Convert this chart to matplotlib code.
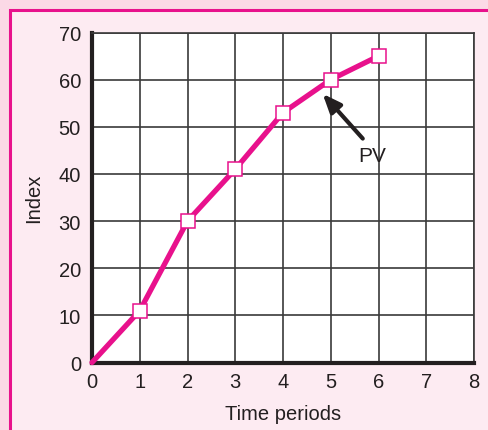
import matplotlib.pyplot as plt
from matplotlib.patches import Rectangle

plt.rcParams['font.family'] = ['Liberation Sans', 'DejaVu Sans']

periods = [0, 1, 2, 3, 4, 5, 6]
index_values = [0, 11, 30, 41, 53, 60, 65]

x_ticks = [0, 1, 2, 3, 4, 5, 6, 7, 8]
y_ticks = [0, 10, 20, 30, 40, 50, 60, 70]

magenta = '#e8118c'
ink = '#231f20'

fig = plt.figure(figsize=(4.88, 4.31), dpi=100)
fig.patch.set_facecolor('#fbd9e6')

# inner panel with magenta frame running off the right and bottom edges
panel = Rectangle((10 / 488, -0.05), 1.1, 1 - 11 / 431 + 0.05,
                  transform=fig.transFigure, facecolor='#fdebf2',
                  edgecolor=magenta, linewidth=2.2, zorder=-10)
fig.patches.append(panel)

ax = fig.add_axes([92 / 488, 1 - 363.5 / 431, 382 / 488, 330 / 431])
ax.set_facecolor('white')
ax.set_xlim(0, 8)
ax.set_ylim(0, 70)
ax.set_xticks(x_ticks)
ax.set_yticks(y_ticks)
ax.tick_params(length=0, labelsize=14.5, colors=ink)
ax.tick_params(axis='x', pad=7)
ax.tick_params(axis='y', pad=8)
ax.grid(True, color='#3a3a3a', linewidth=1.2)
ax.set_axisbelow(True)

for side in ['top', 'right']:
    ax.spines[side].set_color('#3a3a3a')
    ax.spines[side].set_linewidth(1.2)
for side in ['left', 'bottom']:
    ax.spines[side].set_color(ink)
    ax.spines[side].set_linewidth(3)

ax.plot(periods, index_values, color=magenta, linewidth=3.8, zorder=3,
        solid_capstyle='round', clip_on=False)
ax.plot(periods[1:], index_values[1:], linestyle='none', marker='s',
        markersize=10, markerfacecolor='white', markeredgecolor=magenta,
        markeredgewidth=1.1, zorder=4)

# pointer to the PV point
ax.annotate('', xy=(4.83, 57), xytext=(5.67, 47.5),
            arrowprops=dict(arrowstyle='-|>,head_length=1.1,head_width=0.45',
                            color=ink, linewidth=3, shrinkA=0, shrinkB=0),
            zorder=5)
ax.text(5.87, 44.0, 'PV', fontsize=15, color=ink, ha='center', va='center')

ax.set_xlabel('Time periods', fontsize=14.5, color=ink, labelpad=9)
ax.set_ylabel('Index', fontsize=14.5, color=ink, labelpad=11)

fig.savefig('out.png', dpi=100, facecolor=fig.get_facecolor())
